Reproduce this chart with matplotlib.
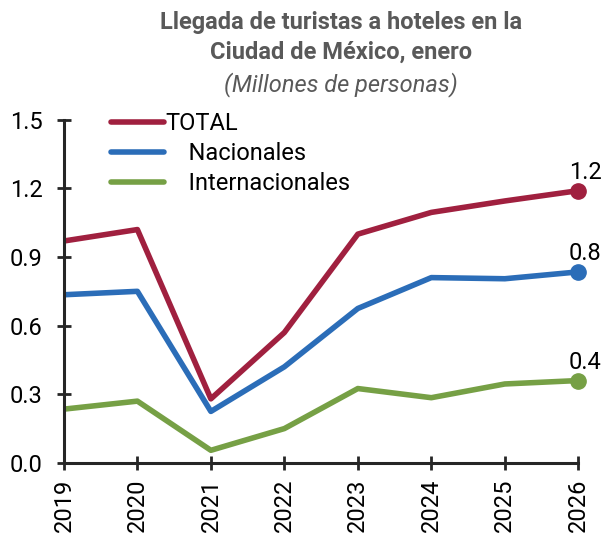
import matplotlib
matplotlib.use("Agg")
import matplotlib.pyplot as plt

plt.rcParams["font.family"] = ["Roboto", "DejaVu Sans"]

years = [2019, 2020, 2021, 2022, 2023, 2024, 2025, 2026]
total = [0.97, 1.02, 0.28, 0.57, 1.00, 1.095, 1.145, 1.19]
nacionales = [0.735, 0.75, 0.225, 0.42, 0.675, 0.81, 0.805, 0.835]
internacionales = [0.235, 0.27, 0.055, 0.15, 0.325, 0.285, 0.345, 0.36]
end_labels = ["1.2", "0.8", "0.4"]

series = [
    ("TOTAL", total, "#A0203F"),
    ("    Nacionales", nacionales, "#2B6DB8"),
    ("    Internacionales", internacionales, "#76A045"),
]

fig = plt.figure(figsize=(6.03, 5.37), dpi=100)
ax = fig.add_axes([0.106, 0.138, 0.853, 0.639])

for (name, vals, col), lab in zip(series, end_labels):
    ax.plot(years, vals, color=col, lw=4, label=name, solid_capstyle="round")
    ax.plot(years[-1], vals[-1], "o", color=col, ms=11, clip_on=False)
    ax.annotate(lab, (years[-1], vals[-1]), xytext=(5, 5), textcoords="offset points",
                ha="center", va="bottom", fontsize=17)

ax.set_xlim(2019, 2026)
ax.set_ylim(0, 1.5)
ax.set_yticks([0, 0.3, 0.6, 0.9, 1.2, 1.5])
ax.set_yticklabels(["0.0", "0.3", "0.6", "0.9", "1.2", "1.5"])
ax.set_xticks(years)
ax.set_xticklabels([str(y) for y in years], rotation=90)

for s in ["top", "right"]:
    ax.spines[s].set_visible(False)
for s in ["left", "bottom"]:
    ax.spines[s].set_linewidth(2.2)
    ax.spines[s].set_color("#262626")
ax.tick_params(direction="inout", length=10.5, width=2, color="#262626",
               labelsize=17)
ax.tick_params(axis="y", pad=10)
ax.tick_params(axis="x", pad=6)

leg = ax.legend(loc="upper left", bbox_to_anchor=(0.05, 1.085), frameon=False,
                fontsize=17, handlelength=2.25, handletextpad=0.05, labelspacing=0.3)

fig.text(0.565, 0.98, "Llegada de turistas a hoteles en la\nCiudad de México, enero",
         ha="center", va="top", fontsize=17, fontweight="bold", color="#595959",
         linespacing=1.4)
fig.text(0.565, 0.82, "(Millones de personas)", ha="center", va="bottom",
         fontsize=17, style="italic", color="#595959")

fig.savefig("out.png", dpi=100)
